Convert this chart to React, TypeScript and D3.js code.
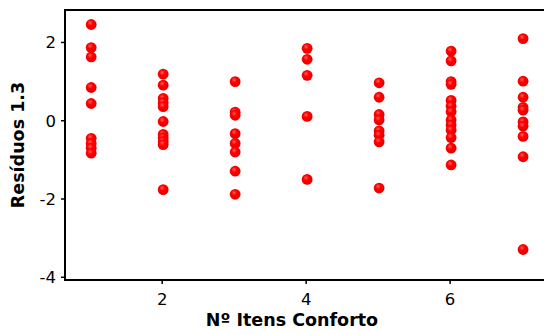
import React from "react";
import * as d3 from "d3";

const xTicks = [2, 4, 6];
const yTicks = [-4, -2, 0, 2];
const col1 = [2.46, 1.87, 1.63, 0.85, 0.44, -0.45, -0.58, -0.7, -0.83];
const col2 = [1.19, 0.91, 0.57, 0.46, 0.36, -0.02, -0.35, -0.44, -0.53, -0.61, -1.76];
const col3 = [1.0, 0.22, 0.14, -0.33, -0.58, -0.8, -1.29, -1.88];
const col4 = [1.85, 1.57, 1.16, 0.11, -1.5];
const col5 = [0.97, 0.6, 0.16, 0.02, -0.26, -0.37, -0.54, -1.72];
const col6 = [1.78, 1.53, 1.0, 0.93, 0.52, 0.37, 0.23, 0.02, -0.11, -0.24, -0.43, -0.7, -1.13];
const col7 = [2.1, 1.01, 0.6, 0.34, 0.27, -0.03, -0.14, -0.4, -0.92, -3.29];
const columns = [col1, col2, col3, col4, col5, col6, col7];

const W = 544;
const H = 334;
const left = 65;
const top = 10;
const bottom = 280;

export default function App() {
  const x = d3.scaleLinear().domain([0.65, 7.36]).range([left, 548]);
  const y = d3.scaleLinear().domain([-4.07, 2.83]).range([bottom, top]);
  const points = columns.flatMap((vals, i) => vals.map((v) => ({ x: i + 1, y: v })));
  const font = "'DejaVu Sans', Verdana, sans-serif";
  return (
    <svg width={W} height={H} style={{ position: "absolute", left: 0, top: 0 }} fontFamily={font}>
      <defs>
        <radialGradient id="dot" cx="0.4" cy="0.35" r="0.7">
          <stop offset="0" stopColor="#ff6060" />
          <stop offset="0.35" stopColor="#ff0000" />
          <stop offset="1" stopColor="#e00000" />
        </radialGradient>
      </defs>
      <rect x={0} y={0} width={W} height={H} fill="#fff" />
      {points.map((p, i) => (
        <circle key={i} cx={x(p.x) + 1} cy={y(p.y)} r={5.4} fill="url(#dot)" />
      ))}
      <line x1={left} x2={W} y1={top} y2={top} stroke="#000" strokeWidth={2} />
      <line x1={left} x2={left} y1={top - 1} y2={bottom + 1} stroke="#000" strokeWidth={2} />
      <line x1={left - 1} x2={W} y1={bottom} y2={bottom} stroke="#000" strokeWidth={2} />
      {yTicks.map((t) => (
        <g key={t}>
          <line x1={left - 4} x2={left} y1={y(t)} y2={y(t)} stroke="#000" strokeWidth={1.5} />
          <text x={left - 9} y={y(t)} dy="0.36em" textAnchor="end" fontSize={16.5} fill="#000">
            {t}
          </text>
        </g>
      ))}
      {xTicks.map((t) => (
        <g key={t}>
          <line x1={x(t)} x2={x(t)} y1={bottom} y2={bottom + 4} stroke="#000" strokeWidth={1.5} />
          <text x={x(t)} y={305} textAnchor="middle" fontSize={16.5} fill="#000">
            {t}
          </text>
        </g>
      ))}
      <text x={292} y={326} textAnchor="middle" fontSize={17.5} fontWeight="bold" fill="#000">
        Nº Itens Conforto
      </text>
      <text
        transform={`translate(24,${145}) rotate(-90)`}
        textAnchor="middle"
        fontSize={17.5}
        fontWeight="bold"
        fill="#000"
      >
        Resíduos 1.3
      </text>
    </svg>
  );
}
